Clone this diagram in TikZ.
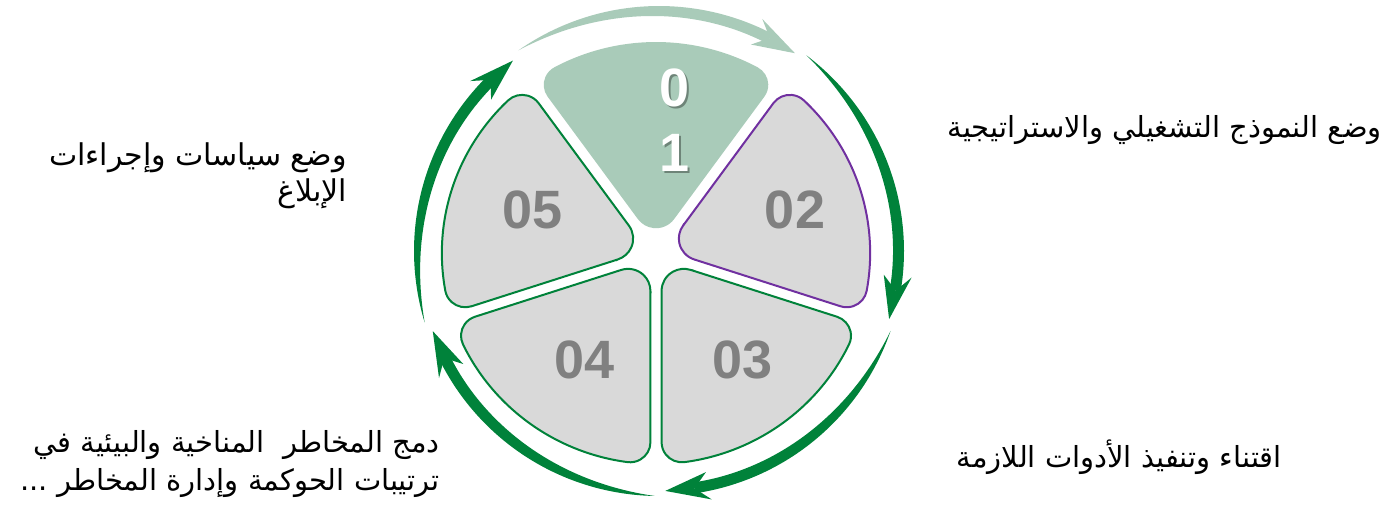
\documentclass[tikz,border=0pt]{standalone}
\usepackage{fontspec}
\setmainfont{Liberation Sans}
\newfontfamily\arabicfont[Script=Arabic]{DejaVu Sans}
\TeXXeTstate=1
\definecolor{lgreen}{HTML}{A9CBB9}
\definecolor{dgreen}{HTML}{00823A}
\definecolor{purp}{HTML}{7030A0}
\definecolor{sgrey}{HTML}{D9D9D9}
\definecolor{ngrey}{HTML}{808080}
\newcommand\sectorshape{(-17.798,33.855) -- (-106.81,156.36) arc[start angle=216,end angle=118.327,radius=20pt] arc[start angle=118.327,end angle=61.673,radius=211pt] arc[start angle=61.673,end angle=-36,radius=20pt] -- (17.798,33.855) arc[start angle=-36,end angle=-144,radius=22pt] -- cycle}
\newcommand\ringarrow[3]{%
  \pgfmathsetmacro\ranotch{#3+7}%
  \pgfmathsetmacro\rabarb{#3+10.5}%
  \pgfmathsetmacro\raspan{(#2)-(#3+7)}%
  \fill[#1] plot[domain=0:1,samples=60] ({#2-\x*\raspan}:245)
     -- plot[domain=1:0,samples=60] ({#2-\x*\raspan}:{245-11*(1-(1-\x)^3)}) -- cycle;
  \fill[#1] (#3:240) -- (\rabarb:254) -- (\ranotch:240) -- (\rabarb:226) -- cycle;
}
\begin{document}
\begin{tikzpicture}[x=1pt,y=1pt,
  greysector/.style={fill=sgrey, draw=dgreen, line width=2pt},
  num/.style={font=\fontsize{54}{60}\selectfont\bfseries, text=ngrey, inner sep=0pt},
  whitenum/.style={font=\fontsize{54}{60}\selectfont\bfseries, text=white, inner sep=0pt},
  shadownum/.style={font=\fontsize{54}{60}\selectfont\bfseries, text=black, opacity=0.35, inner sep=0pt},
  lbl/.style={font=\arabicfont\fontsize{29}{34}\selectfont, text=black, inner sep=0pt, anchor=base east}]
\useasboundingbox (0,-507) rectangle (1387,0);
% sectors
\begin{scope}[shift={(656,-253)}, xscale=1.015]
  \fill[lgreen] \sectorshape;
  \begin{scope}[rotate=-72]\filldraw[greysector, draw=purp] \sectorshape;\end{scope}
  \begin{scope}[rotate=-144]\filldraw[greysector] \sectorshape;\end{scope}
  \begin{scope}[rotate=-216]\filldraw[greysector] \sectorshape;\end{scope}
  \begin{scope}[rotate=-288]\filldraw[greysector] \sectorshape;\end{scope}
\end{scope}
% ring arrows
\begin{scope}[shift={(659,-251)}]
  \ringarrow{lgreen}{125}{55.5}
  \ringarrow{dgreen}{53}{-16.5}
  \ringarrow{dgreen}{-19}{-88.5}
  \ringarrow{dgreen}{-91}{-160.5}
  \ringarrow{dgreen}{-163}{-232.5}
\end{scope}
% numbers
\node[shadownum] (s0) at (677,-90) {0};
\node[whitenum] (n0) at (675,-88) {0};
\node[shadownum] (s1) at (677,-155) {1};
\node[whitenum] (n1) at (675,-153) {1};
\node[num] (n02) at (795,-210) {02};
\node[num] (n03) at (743,-360) {03};
\node[num] (n04) at (585,-360) {04};
\node[num] (n05) at (533,-210) {05};
% labels
\node[lbl] (t1) at (1382,-137) {\beginR وضع النموذج التشغيلي والاستراتيجية\endR};
\node[lbl] (t2) at (1282,-467) {\beginR اقتناء وتنفيذ الأدوات اللازمة\endR};
\node[lbl, font=\arabicfont\fontsize{30}{35}\selectfont] (t3a) at (347,-165) {\beginR وضع سياسات وإجراءات\endR};
\node[lbl, font=\arabicfont\fontsize{30}{35}\selectfont] (t3b) at (347,-201) {\beginR الإبلاغ\endR};
\node[lbl] (t4a) at (440,-452) {\beginR دمج المخاطر\ \ المناخية والبيئية في\endR};
\node[lbl] (t4b) at (440,-490) {\beginR ترتيبات الحوكمة وإدارة المخاطر ...\endR};
\end{tikzpicture}
\end{document}
